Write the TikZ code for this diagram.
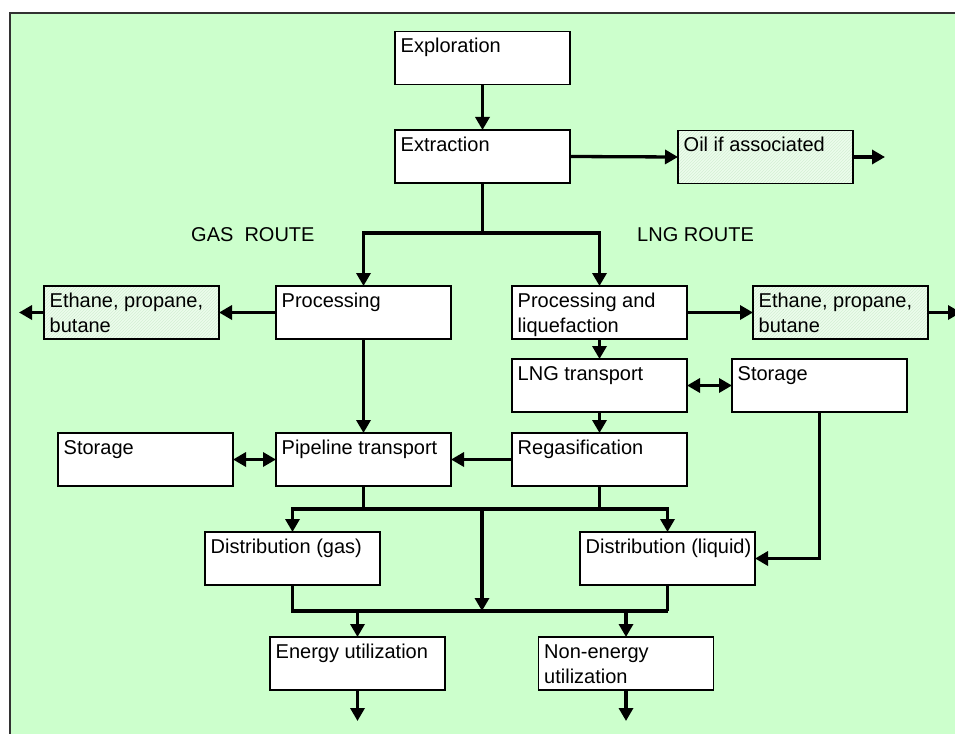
\documentclass[tikz,border=0pt]{standalone}
\usepackage{fontspec}
\setmainfont{Liberation Sans}
\usetikzlibrary{arrows.meta,patterns}
\definecolor{bggreen}{RGB}{204,255,204}
\definecolor{hatchbg}{RGB}{236,252,236}
\definecolor{hatchln}{RGB}{212,240,212}
\definecolor{framec}{RGB}{50,50,50}
\tikzset{
  box/.style={draw=black, line width=1.4pt, fill=white, minimum width=175pt, minimum height=53pt, inner sep=0pt, outer sep=0pt},
  hatchbox/.style={box, fill=none, preaction={fill=hatchbg}, pattern=north east lines, pattern color=hatchln},
  txt/.style={inner sep=0pt, anchor=base west, font=\fontsize{20pt}{25pt}\selectfont},
  conn/.style={line width=3.3pt},
  arr/.style={conn, -{Triangle[length=13pt,width=14pt]}},
  darr/.style={conn, {Triangle[length=13pt,width=14pt]}-{Triangle[length=13pt,width=14pt]}},
}
\newcommand{\boxtext}[3]{\node[txt] (#1) at ([shift={(5.5pt,-21pt)}]#2.north west) {#3};}
\begin{document}
\begin{tikzpicture}[x=1pt,y=-1pt]
\clip (0,0) rectangle (955,733);
% background
\fill[bggreen] (10,13) rectangle (965,745);
\draw[line width=2pt, framec] (965,13) -- (10,13) -- (10,745);

% boxes
\node[box] (expl) at (482.5,58) {};
\node[box] (extr) at (482.5,156.5) {};
\node[hatchbox] (oil) at (765.5,157) {};
\node[box] (proc) at (363.5,312.5) {};
\node[hatchbox] (eth1) at (131.5,312.5) {};
\node[box] (pl) at (599.5,312.5) {};
\node[hatchbox] (eth2) at (840.5,312.5) {};
\node[box] (lng) at (599.5,385.5) {};
\node[box] (stor2) at (819.5,385.5) {};
\node[box] (pipe) at (363.5,459.5) {};
\node[box] (stor1) at (145.5,459.5) {};
\node[box] (regas) at (599.5,459.5) {};
\node[box] (dgas) at (292.5,558.5) {};
\node[box] (dliq) at (667.5,558.5) {};
\node[box] (energy) at (357.5,663.5) {};
\node[box] (nonen) at (626,663.5) {};

% texts
\boxtext{texpl}{expl}{Exploration}
\boxtext{textr}{extr}{Extraction}
\boxtext{toil}{oil}{Oil if associated}
\boxtext{tproc}{proc}{Processing}
\boxtext{teth1}{eth1}{\vtop{\hbox{Ethane, propane,}\hbox{butane}}}
\boxtext{tpl}{pl}{\vtop{\hbox{Processing and}\hbox{liquefaction}}}
\boxtext{teth2}{eth2}{\vtop{\hbox{Ethane, propane,}\hbox{butane}}}
\boxtext{tlng}{lng}{LNG transport}
\boxtext{tstor2}{stor2}{Storage}
\boxtext{tpipe}{pipe}{Pipeline transport}
\boxtext{tstor1}{stor1}{Storage}
\boxtext{tregas}{regas}{Regasification}
\boxtext{tdgas}{dgas}{Distribution (gas)}
\boxtext{tdliq}{dliq}{Distribution (liquid)}
\boxtext{tenergy}{energy}{Energy utilization}
\boxtext{tnonen}{nonen}{\vtop{\hbox{Non-energy}\hbox{utilization}}}

% route labels
\node[txt] (gasroute) at (191,241.5) {GAS\ \ ROUTE};
\node[txt] (lngroute) at (637,241.5) {LNG ROUTE};

% junction coordinates
\coordinate (j1) at (482.5,233);
\coordinate (h1L) at (292.5,509);
\coordinate (h1M) at (482,509);
\coordinate (h1R) at (667.5,509);
\coordinate (h2L) at (292.5,611);
\coordinate (h2M) at (482,611);
\coordinate (h2R) at (667.5,611);
\coordinate (oilout) at (885,157);
\coordinate (eth1out) at (19,312.5);
\coordinate (eth2out) at (961,312.5);
\coordinate (enout) at (357.5,721);
\coordinate (nonout) at (626,721);

% connectors
\draw[arr] (expl.south) -- (extr.north);
\draw[arr] (extr.east) -- (oil.west);
\draw[arr] (oil.east) -- (oilout);
\draw[conn] (extr.south) -- (j1);
\draw[arr] (j1) -| (proc.north);
\draw[arr] (j1) -| (pl.north);
\draw[arr] (proc.west) -- (eth1.east);
\draw[arr] (eth1.west) -- (eth1out);
\draw[arr] (pl.east) -- (eth2.west);
\draw[arr] (eth2.east) -- (eth2out);
\draw[arr] (pl.south) -- (lng.north);
\draw[arr] (lng.south) -- (regas.north);
\draw[darr] (lng.east) -- (stor2.west);
\draw[arr] (proc.south) -- (pipe.north);
\draw[darr] (stor1.east) -- (pipe.west);
\draw[arr] (regas.west) -- (pipe.east);
\draw[arr] (stor2.south) |- (dliq.east);

\draw[conn] (pipe.south) -- (pipe.south |- h1L);
\draw[conn] (regas.south) -- (regas.south |- h1L);
\draw[arr] (h1R) -| (dgas.north);
\draw[arr] (h1L) -| (dliq.north);
\draw[arr] (h1M) -- (h2M);
\draw[conn] (dgas.south) |- (h2R);
\draw[conn] (dliq.south) -- (h2R);
\draw[arr] (energy.north |- h2L) -- (energy.north);
\draw[arr] (nonen.north |- h2L) -- (nonen.north);
\draw[arr] (energy.south) -- (enout);
\draw[arr] (nonen.south) -- (nonout);
\end{tikzpicture}
\end{document}
